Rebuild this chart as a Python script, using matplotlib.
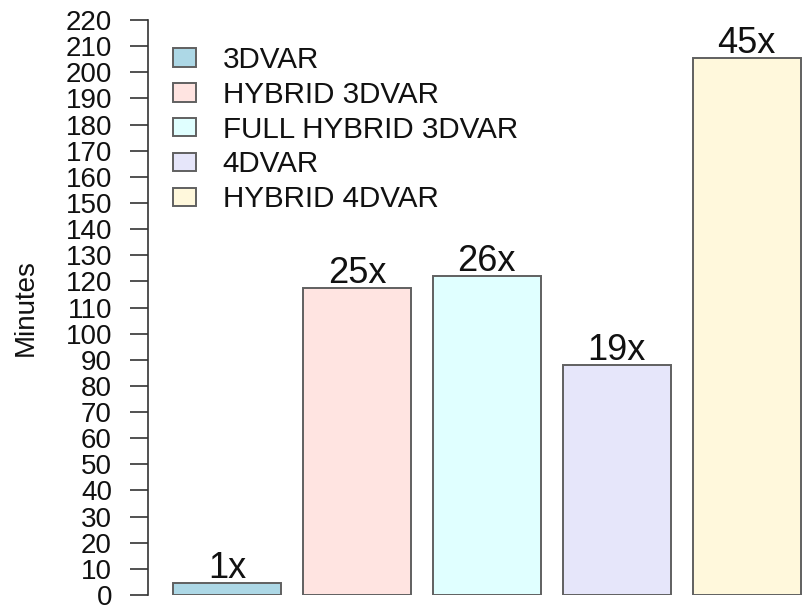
import matplotlib
matplotlib.use("Agg")
import matplotlib.pyplot as plt

plt.rcParams['font.family'] = ['Liberation Sans', 'DejaVu Sans']

schemes = ["3DVAR", "HYBRID 3DVAR", "FULL HYBRID 3DVAR", "4DVAR", "HYBRID 4DVAR"]
minutes = [4.6, 117.4, 122.0, 88.0, 205.4]
speed_labels = ["1x", "25x", "26x", "19x", "45x"]
colors = ["lightblue", "mistyrose", "lightcyan", "lavender", "cornsilk"]
yticks = list(range(0, 221, 10))

W, H = 804, 606
fig = plt.figure(figsize=(W / 100, H / 100), dpi=100)
ax = fig.add_axes([148 / W, (H - 595) / H, 1 - 148 / W, (595 - 20) / H])

# barplot-style layout: width 1, space 0.2
lefts = [0.2 + i * 1.2 for i in range(len(minutes))]
centers = [l + 0.5 for l in lefts]
bars = ax.bar(centers, minutes, width=1.0, color=colors,
              edgecolor="#606060", linewidth=1.4)

for x, v, lab in zip(centers, minutes, speed_labels):
    ax.text(x, v + 2.0, lab, ha="center", va="baseline", fontsize=26, color="#111111")

ax.set_xlim(-0.03, 6.03)
ax.set_ylim(0, 220)
ax.set_yticks(yticks)
ax.set_yticklabels([str(t) for t in yticks], fontsize=20, color="#111111")
ax.tick_params(axis="y", length=13, width=1.2, pad=13, color="#333333")
ax.set_xticks([])
for s in ["top", "right", "bottom"]:
    ax.spines[s].set_visible(False)
ax.spines["left"].set_bounds(0, 220)
ax.spines["left"].set_linewidth(1.2)
ax.spines["left"].set_color("#333333")

fig.text(26 / W, 1 - 308 / H, "Minutes", rotation=90, ha="center", va="center",
         fontsize=20, color="#111111")

leg = ax.legend(bars, schemes, loc="upper left",
                bbox_to_anchor=(173 / W, 1 - 46 / H), bbox_transform=fig.transFigure,
                frameon=False, fontsize=21.3, handlelength=0.78, handleheight=0.58,
                handletextpad=0.9, labelspacing=0.23, borderpad=0, borderaxespad=0)
for t in leg.get_texts():
    t.set_color("#111111")

fig.savefig("out.png", dpi=100)
